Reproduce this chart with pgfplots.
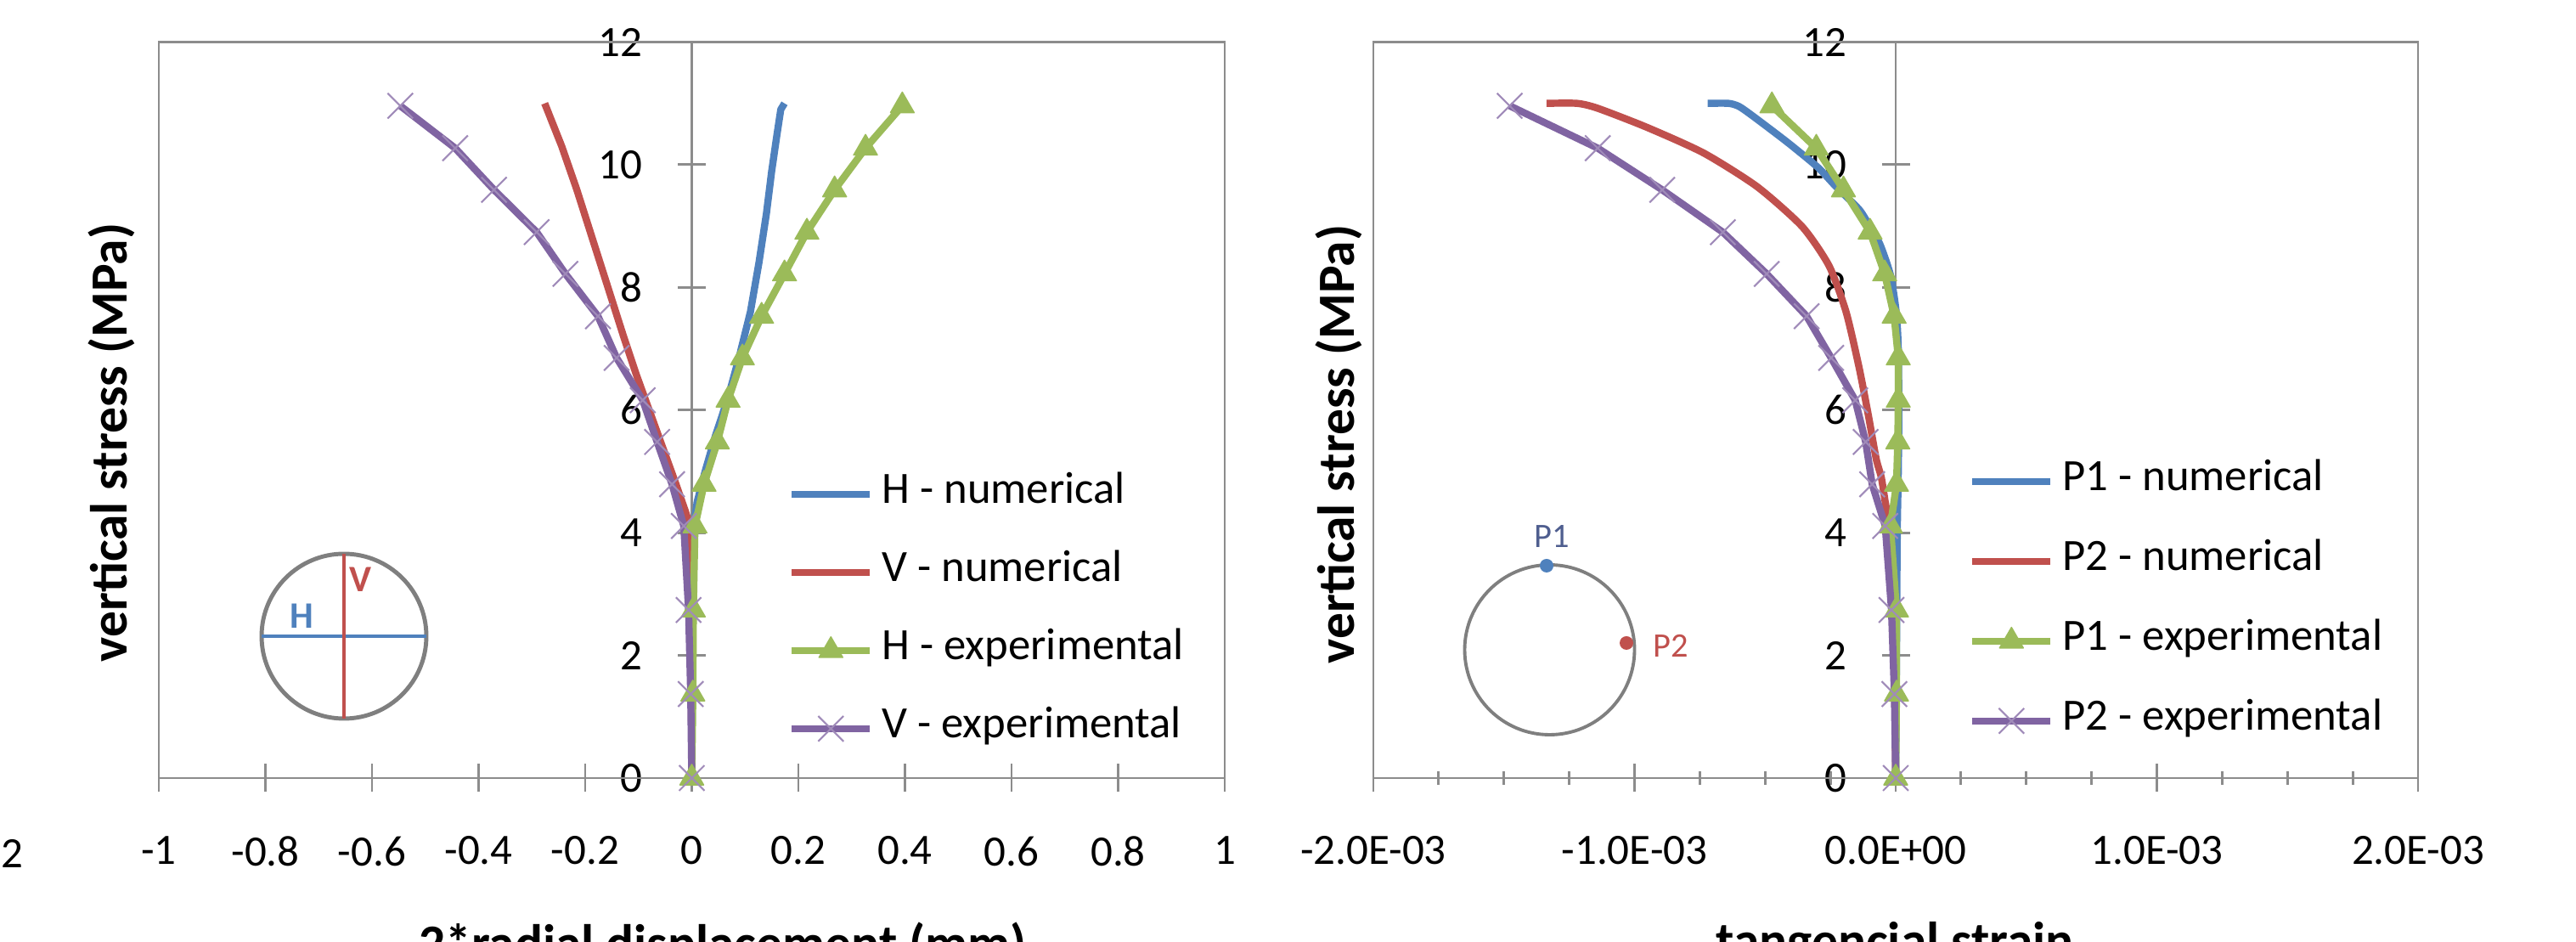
\documentclass[border=0pt]{standalone}
\usepackage{fontspec}
\setmainfont{Carlito}
\usepackage{pgfplots}
\pgfplotsset{compat=1.18}

\definecolor{xblue}{HTML}{4F81BD}
\definecolor{xred}{HTML}{C0504D}
\definecolor{xgreen}{HTML}{9BBB59}
\definecolor{xpurple}{HTML}{8064A2}
\definecolor{axgray}{HTML}{8C8C8C}
\definecolor{circgray}{HTML}{7F7F7F}
\definecolor{ponegray}{HTML}{4F5E8F}

\pgfplotsset{
  xlchart/.style={
    scale only axis, axis lines=middle,
    axis line style={-, draw=axgray, line width=0.8pt},
    hide obscured x ticks=false, hide obscured y ticks=false,
    ymin=0, ymax=12, ytick={2,4,6,8,10,12}, yticklabels={2,4,6,8,10,12},
    extra y ticks={0}, extra y tick labels={0},
    tick align=center, major tick length=0.33cm, minor tick length=0.16cm,
    tick style={draw=axgray, line width=0.8pt},
    tick label style={font=\fontsize{14.5}{17}\selectfont, text=black},
    yticklabel style={xshift=-0.29cm},
    xticklabel style={yshift=-0.4cm},
    clip=false, legend cell align=left,
    legend image code/.code={\draw[mark repeat=2,mark phase=2,##1] plot coordinates {(0cm,0cm) (0.46cm,0cm) (0.92cm,0cm)};},
    legend style={draw=none, fill=none, anchor=north west, inner sep=0pt, outer sep=0pt,
      font=\fontsize{15}{18}\selectfont,
      nodes={inner sep=0pt, text height=0.36cm, text depth=0.15cm},
      /tikz/every odd column/.style={column sep=0.1cm}},
  },
  num/.style={line width=2.4pt, line join=round, no marks},
  tri/.style={line width=2.4pt, line join=round, xgreen, mark=triangle*, mark size=4.6pt,
    mark options={solid, fill=xgreen, draw=xgreen, line width=0.4pt}},
  crs/.style={line width=2.4pt, line join=round, xpurple, mark=x, mark size=6pt,
    mark options={solid, draw=xpurple!75, line width=0.6pt}},
}

\begin{document}
\begin{tikzpicture}
\useasboundingbox (0,0) rectangle (30.33,11.09);

% left panel: radial displacement
\begin{axis}[xlchart, at={(1.87cm,1.93cm)}, anchor=south west,
  width=12.55cm, height=8.665cm,
  xmin=-1, xmax=1,
  xtick={-1,-0.8,-0.6,-0.4,-0.2,0.2,0.4,0.6,0.8,1},
  xticklabels={-1,-0.8,-0.6,-0.4,-0.2,0.2,0.4,0.6,0.8,1},
  extra x ticks={0}, extra x tick labels={0},
  legend style={at={(axis cs:0.181,4.98)}, row sep=0.41cm}]
\draw[axgray, line width=0.8pt] (rel axis cs:0,0) rectangle (rel axis cs:1,1);
\addplot[num, xblue] coordinates {(0,0) (0.001,2) (0.002,4.0) (0.01,4.5) (0.025,5.0) (0.045,5.6) (0.068,6.2) (0.09,6.9) (0.11,7.6) (0.126,8.4) (0.14,9.2) (0.15,9.9) (0.16,10.5) (0.167,10.9) (0.174,11.0)};
\addlegendentry{H - numerical}
\addplot[num, xred] coordinates {(0,0) (-0.001,2) (-0.003,4.1) (-0.012,4.35) (-0.03,4.8) (-0.055,5.4) (-0.08,6.0) (-0.105,6.6) (-0.128,7.2) (-0.15,7.8) (-0.172,8.4) (-0.194,9.0) (-0.216,9.6) (-0.244,10.3) (-0.276,11.0)};
\addlegendentry{V - numerical}
\addplot[tri] coordinates {(0,0) (0.002,1.37) (0.003,2.74) (0.006,4.11) (0.023,4.79) (0.048,5.48) (0.068,6.16) (0.095,6.85) (0.131,7.53) (0.174,8.22) (0.216,8.90) (0.268,9.59) (0.326,10.27) (0.395,10.96)};
\addlegendentry{H - experimental}
\addplot[crs] coordinates {(0,0) (-0.002,1.37) (-0.006,2.74) (-0.015,4.11) (-0.037,4.79) (-0.065,5.48) (-0.092,6.16) (-0.141,6.85) (-0.176,7.53) (-0.237,8.22) (-0.291,8.90) (-0.371,9.59) (-0.444,10.27) (-0.547,10.96)};
\addlegendentry{V - experimental}
\end{axis}

% right panel: tangential strain
\begin{axis}[xlchart, at={(16.17cm,1.93cm)}, anchor=south west,
  width=12.30cm, height=8.665cm,
  xmin=-0.002, xmax=0.002, scaled x ticks=false,
  xtick={-0.002,-0.001,0.001,0.002},
  xticklabels={-2.0E-03,-1.0E-03,1.0E-03,2.0E-03},
  extra x ticks={0}, extra x tick labels={0.0E+00},
  minor xtick={-0.00175,-0.0015,-0.00125,-0.00075,-0.0005,-0.00025,0.00025,0.0005,0.00075,0.00125,0.0015,0.00175},
  legend style={at={(axis cs:0.00028,5.19)}, row sep=0.43cm}]
\draw[axgray, line width=0.8pt] (rel axis cs:0,0) rectangle (rel axis cs:1,1);
\addplot[num, xblue, smooth, tension=0.4] coordinates {(0,0) (0.000003,2) (0.000006,4) (0.00001,5) (0.000012,6) (0.00001,7) (0.000002,7.6) (-0.00002,8.2) (-0.00006,8.7) (-0.0001,9.0) (-0.00014,9.27) (-0.000228,9.64) (-0.000299,9.96) (-0.000416,10.37) (-0.000546,10.79) (-0.0006,10.95) (-0.00064,11.0) (-0.00072,11.0)};
\addlegendentry{P1 - numerical}
\addplot[num, xred, smooth, tension=0.4] coordinates {(0,0) (-0.000005,2) (-0.000015,3.5) (-0.000028,4.2) (-0.00004,4.5) (-0.000055,4.9) (-0.000075,5.21) (-0.000104,5.9) (-0.00014,6.69) (-0.00019,7.6) (-0.000255,8.35) (-0.000358,8.99) (-0.00053,9.64) (-0.000735,10.19) (-0.000953,10.61) (-0.001141,10.92) (-0.00122,11.0) (-0.001337,11.0)};
\addlegendentry{P2 - numerical}
\addplot[tri] coordinates {(0,0) (0.000003,1.37) (0.000003,2.74) (-0.00002,4.11) (0.000003,4.79) (0.000008,5.48) (0.00001,6.16) (0.00001,6.85) (-0.000006,7.53) (-0.000042,8.22) (-0.000098,8.90) (-0.0002,9.59) (-0.000304,10.27) (-0.000474,10.96)};
\addlegendentry{P1 - experimental}
\addplot[crs] coordinates {(0,0) (-0.000005,1.37) (-0.000016,2.74) (-0.00004,4.11) (-0.00009,4.79) (-0.000115,5.48) (-0.000155,6.16) (-0.000247,6.85) (-0.000341,7.53) (-0.000494,8.22) (-0.000662,8.90) (-0.000894,9.59) (-0.001141,10.27) (-0.001478,10.96)};
\addlegendentry{P2 - experimental}
\end{axis}

% axis titles
\node[rotate=90, inner sep=0pt, font=\fontsize{17.5}{20}\selectfont\bfseries] at (1.31,5.88) {vertical stress (MPa)};
\node[rotate=90, inner sep=0pt, font=\fontsize{17.5}{20}\selectfont\bfseries] at (15.76,5.86) {vertical stress (MPa)};
\node[anchor=north, inner sep=0pt, font=\fontsize{17.5}{20}\selectfont\bfseries] at (8.51,0.24) {2*radial displacement (mm)};
\node[anchor=north, inner sep=0pt, font=\fontsize{17.5}{20}\selectfont\bfseries] at (22.31,0.24) {tangencial strain};
\node[inner sep=0pt, font=\fontsize{14.5}{17}\selectfont] at (0.14,1.04) {2};

% left sketch
\draw[circgray, line width=1.4pt] (4.05,3.60) circle[radius=0.97];
\draw[xblue, line width=0.9pt] (3.08,3.60) -- (5.02,3.60);
\draw[xred, line width=0.9pt] (4.05,2.63) -- (4.05,4.57);
\node[xblue, font=\fontsize{12.5}{14}\selectfont\bfseries] at (3.55,3.84) {H};
\node[xred, font=\fontsize{12.5}{14}\selectfont\bfseries] at (4.24,4.27) {V};

% right sketch
\draw[circgray, line width=1.1pt] (18.245,3.44) circle[radius=1.0];
\fill[xblue] (18.21,4.43) circle[radius=0.08];
\fill[xred] (19.15,3.52) circle[radius=0.08];
\node[ponegray, font=\fontsize{11.5}{13}\selectfont] at (18.27,4.77) {P1};
\node[xred, font=\fontsize{11.5}{13}\selectfont] at (19.67,3.49) {P2};
\end{tikzpicture}
\end{document}
